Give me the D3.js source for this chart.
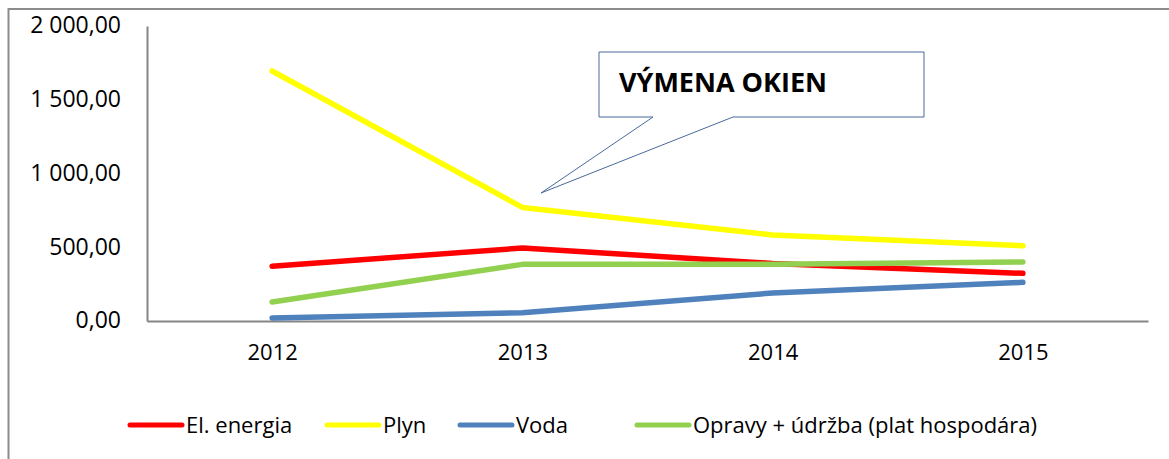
<!DOCTYPE html>
<html>
<head>
<meta charset="utf-8">
<script src="https://cdn.jsdelivr.net/npm/d3@7"></script>
<style>
  body { margin: 0; background: #fff; }
  text { font-family: 'Open Sans', sans-serif; fill: #000; }
</style>
</head>
<body>
<div class="chart"></div>
<script>
const svgWidth = 1169;
const svgHeight = 459;

// data
const years = ['2012', '2013', '2014', '2015'];
const elEnergia = [371, 495, 390, 323];
const plyn = [1695, 770, 583, 510];
const voda = [20, 56, 190, 262];
const opravy = [129, 384, 384, 400];
const yTicks = [0, 500, 1000, 1500, 2000];

const series = [
  { name: 'El. energia', values: elEnergia, color: '#FF0000' },
  { name: 'Plyn', values: plyn, color: '#FFFF00' },
  { name: 'Voda', values: voda, color: '#4F81BD' },
  { name: 'Opravy + údržba (plat hospodára)', values: opravy, color: '#92D050' }
];

const plot = { left: 147, right: 1148, top: 26, bottom: 321 };
const legendX = [130, 327, 460, 637];
const legendY = 425;

const svg = d3.select('.chart')
  .append('svg')
  .attr('width', svgWidth)
  .attr('height', svgHeight);

// outer chart border (runs off the picture on right and bottom)
svg.append('rect')
  .attr('x', 8.5)
  .attr('y', 9)
  .attr('width', svgWidth + 20)
  .attr('height', svgHeight + 20)
  .attr('fill', 'none')
  .attr('stroke', '#8c8c8c')
  .attr('stroke-width', 2);

const xScale = d3.scalePoint()
  .domain(years)
  .range([plot.left, plot.right])
  .padding(0.5);

const yScale = d3.scaleLinear()
  .domain([0, 2000])
  .range([plot.bottom, plot.top]);

const fmt = v => d3.format(',.2f')(v).replace(/,/g, ' ').replace('.', ',');

// y axis
const yAxis = svg.append('g')
  .attr('transform', `translate(${plot.left}, 0)`)
  .call(d3.axisLeft(yScale).tickValues(yTicks).tickSize(0).tickPadding(26).tickFormat(fmt));
yAxis.select('.domain').attr('stroke', '#868686').attr('stroke-width', 2);
yAxis.selectAll('text')
  .attr('font-family', 'Open Sans, sans-serif')
  .attr('font-size', 23)
  .attr('fill', '#000')
  .attr('dy', '0.3em');

// x axis
const xAxis = svg.append('g')
  .attr('transform', `translate(0, ${plot.bottom})`)
  .call(d3.axisBottom(xScale).tickSize(0).tickPadding(23));
xAxis.select('.domain').attr('stroke', '#868686').attr('stroke-width', 2);
xAxis.selectAll('text')
  .attr('font-family', 'Open Sans, sans-serif')
  .attr('font-size', 22)
  .attr('fill', '#000');

// lines
const line = d3.line()
  .x((d, i) => xScale(years[i]))
  .y(d => yScale(d));

svg.append('g')
  .selectAll('path')
  .data(series)
  .enter()
  .append('path')
  .attr('d', d => line(d.values))
  .attr('fill', 'none')
  .attr('stroke', d => d.color)
  .attr('stroke-width', 5.5)
  .attr('stroke-linecap', 'round')
  .attr('stroke-linejoin', 'round');

// callout
const callout = svg.append('g');
callout.append('path')
  .attr('d', 'M599,52 L924,52 L924,117 L733,117 L541,193 L653,117 L599,117 Z')
  .attr('fill', '#fff')
  .attr('stroke', '#4a6a9a')
  .attr('stroke-width', 1);
callout.append('text')
  .attr('x', 619)
  .attr('y', 92)
  .attr('font-size', 27)
  .attr('font-weight', 'bold')
  .text('VÝMENA OKIEN');

// legend
const legend = svg.append('g')
  .selectAll('g')
  .data(series)
  .enter()
  .append('g')
  .attr('transform', (d, i) => `translate(${legendX[i]}, ${legendY})`);
legend.append('line')
  .attr('x1', 0)
  .attr('x2', 52)
  .attr('stroke', d => d.color)
  .attr('stroke-width', 5)
  .attr('stroke-linecap', 'round');
legend.append('text')
  .attr('x', 56)
  .attr('dy', '0.35em')
  .attr('font-size', 22)
  .text(d => d.name);
</script>
</body>
</html>
